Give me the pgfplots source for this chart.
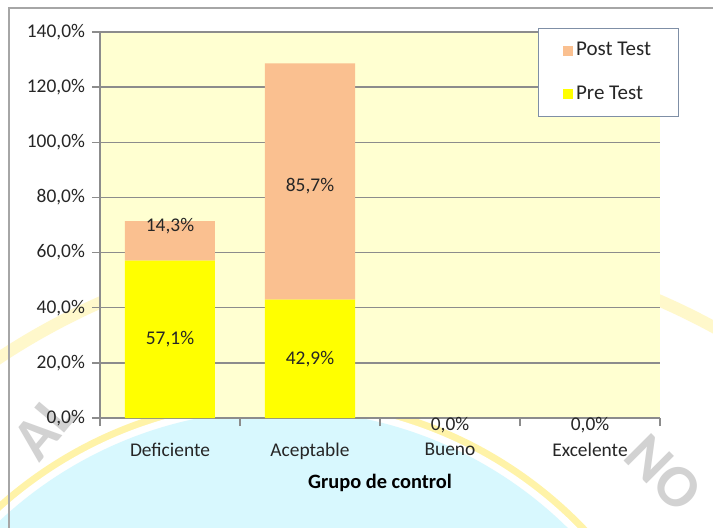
\documentclass[border=0pt]{standalone}
\usepackage{fontspec}
\setmainfont{Carlito}
\usepackage{pgfplots}
\pgfplotsset{compat=1.18}
\definecolor{postc}{HTML}{FAC090}
\definecolor{prec}{HTML}{FFFF00}
\definecolor{plotbg}{HTML}{FFFFD1}
\definecolor{gridc}{HTML}{8C8C8C}
\definecolor{wmcyan}{HTML}{D8F8FE}
\definecolor{wmyel}{HTML}{FFF3A8}
\definecolor{legc}{HTML}{7F8FA6}
\definecolor{txt}{HTML}{262626}

\begin{document}
\begin{tikzpicture}
\useasboundingbox (0,0) rectangle (356.5pt,263.5pt);
% watermark behind the chart
\begin{scope}
\clip (0,0) rectangle (356.5pt,263.5pt);
\fill[white] (0,0) rectangle (356.5pt,263.5pt);
\draw[wmyel!60, line width=6pt] (191pt,-205.5pt) circle (347.5pt);
\fill[wmyel] (140pt,-146.5pt) circle (212pt);
\fill[white] (140pt,-146.5pt) circle (208.5pt);
\fill[wmcyan] (140pt,-146.5pt) circle (205pt);
\node[gray!35, font=\bfseries\fontsize{30}{30}\selectfont, rotate=50] at (22pt,50pt) {AL};
\node[gray!35, font=\bfseries\fontsize{30}{30}\selectfont, rotate=-45] at (332pt,27pt) {NO};
\draw[gray!70, line width=0.6pt] (4.5pt,-5pt) rectangle (400pt,259.5pt);
\end{scope}

\begin{axis}[
  at={(50pt,54.5pt)}, anchor=south west,
  width=280pt, height=193pt, scale only axis,
  xmin=-0.5, xmax=3.5, ymin=0, ymax=140,
  ybar stacked, bar width=45pt,
  axis background/.style={fill=plotbg},
  axis x line*=bottom, axis y line*=left,
  axis line style={gridc, line width=0.7pt},
  ymajorgrids, grid style={gridc, line width=0.7pt},
  tick align=outside, major tick length=4pt,
  tick style={gridc, line width=0.7pt},
  ytick={0,20,...,140},
  yticklabels={{0,0\%},{20,0\%},{40,0\%},{60,0\%},{80,0\%},{100,0\%},{120,0\%},{140,0\%}},
  xtick={-0.5,0.5,1.5,2.5,3.5},
  x tick label as interval,
  xticklabels={Deficiente,Aceptable,Bueno,Excelente},
  tick label style={font=\fontsize{9.7}{11}\selectfont, text=txt},
  xticklabel style={yshift=-5pt},
  xlabel={Grupo de control},
  xlabel style={font=\bfseries\fontsize{10.2}{12}\selectfont, text=black,
    at={(axis description cs:0.5,0)}, anchor=center, yshift=-32.5pt},
  legend style={at={(0.782,1.0104)}, anchor=north west, draw=legc, fill=white,
    line width=0.6pt, font=\fontsize{10.5}{12}\selectfont, text=txt,
    inner xsep=12pt, inner ysep=5pt, row sep=9.5pt,
    nodes={inner sep=1.6pt, text height=7pt, text depth=2pt}},
  legend image code/.code={\fill[#1] (0pt,-2.6pt) rectangle (5.2pt,2.6pt);},
  legend cell align=left,
  reverse legend,
  clip=false,
]
\addplot[fill=prec, draw=none] coordinates {(0,57.1) (1,42.9) (2,0) (3,0)};
\addplot[fill=postc, draw=none] coordinates {(0,14.3) (1,85.7) (2,0) (3,0)};
\legend{Pre Test, Post Test}

\coordinate (a) at (axis cs:0,28.6);
\coordinate (b) at (axis cs:0,69.6);
\coordinate (c) at (axis cs:1,21.4);
\coordinate (d) at (axis cs:1,84.1);
\coordinate (e) at (axis cs:2,-2.5);
\coordinate (f) at (axis cs:3,-2.5);
\end{axis}
% value labels on top of the bars
\begin{scope}[every node/.style={font=\fontsize{9.7}{11}\selectfont, text=txt}]
\node at (a) {57,1\%};
\node at (b) {14,3\%};
\node at (c) {42,9\%};
\node at (d) {85,7\%};
\node at (e) {0,0\%};
\node at (f) {0,0\%};
\end{scope}
\end{tikzpicture}
\end{document}
